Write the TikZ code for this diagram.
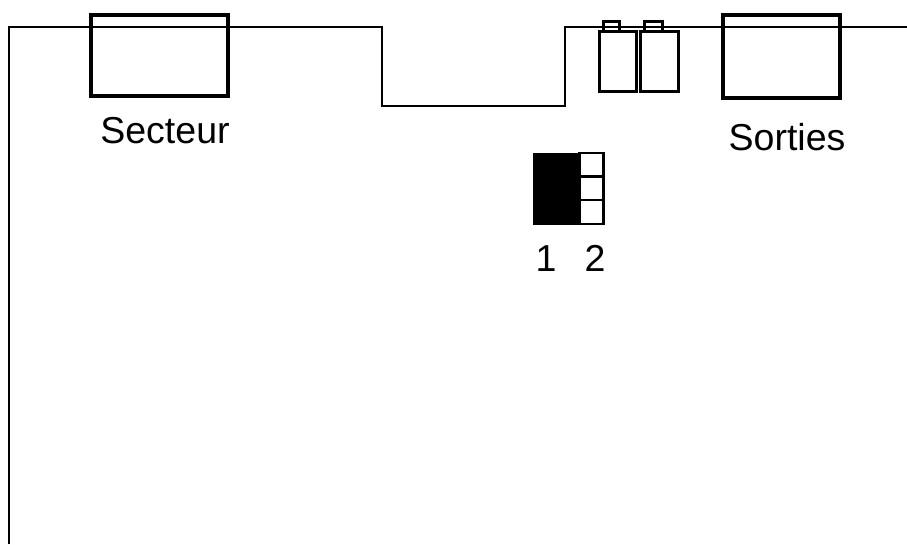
\documentclass[tikz,border=0pt]{standalone}
\usepackage{fontspec}
\setmainfont{Liberation Sans}
\usetikzlibrary{positioning}
\tikzset{
	bigbox/.style={draw, line width=3.6pt, inner sep=0pt, outer sep=0pt},
	bottle/.style={draw, line width=3pt, inner sep=0pt, outer sep=0pt, minimum width=37pt, minimum height=60pt},
	bottlecap/.style={draw, line width=3pt, inner sep=0pt, outer sep=0pt, minimum height=10pt},
	dipcell/.style={draw, line width=2.6pt, inner sep=0pt, outer sep=0pt, minimum width=24pt, minimum height=23.7pt},
	lbl/.style={inner sep=0pt, font=\fontsize{37.5}{40}\selectfont}
}
\begin{document}
\begin{tikzpicture}[x=1pt, y=-1pt]
		\useasboundingbox (0,0) rectangle (907,544);
		
		\node at (159.5,55.5) [bigbox, minimum width=137pt, minimum height=81pt] (secteur) {};
		\node at (781.5,56.5) [bigbox, line width=4.6pt, minimum width=117pt, minimum height=83pt] (sorties) {};
		\node at (165,131) [lbl] (secteurlbl) {Secteur};
		\node at (787,137) [lbl] (sortieslbl) {Sorties};
		
		\node at (617.5,61) [bottle] (bottle1) {};
		\node at (659,61) [bottle, minimum width=38pt] (bottle2) {};
		\node at (611,26) [bottlecap, minimum width=16pt] (cap1) {};
		\node at (653,26) [bottlecap, minimum width=18pt] (cap2) {};
		
		\draw [line width=2.8pt] (9,544) -- (9,27) -- (382,27) -- (382,106) -- (565,106) -- (565,27) -- (907,27);
		
		\foreach \row/\ypos in {1/165, 2/188, 3/212} {
			\node at (591.5,\ypos) [dipcell] (cell\row) {};
		}
		\fill (533,153) rectangle (579.5,224.5);
		
		\node at (546,258.5) [lbl] (dip1) {1};
		\node at (595,258.5) [lbl] (dip2) {2};
		
		\end{tikzpicture}
\end{document}
